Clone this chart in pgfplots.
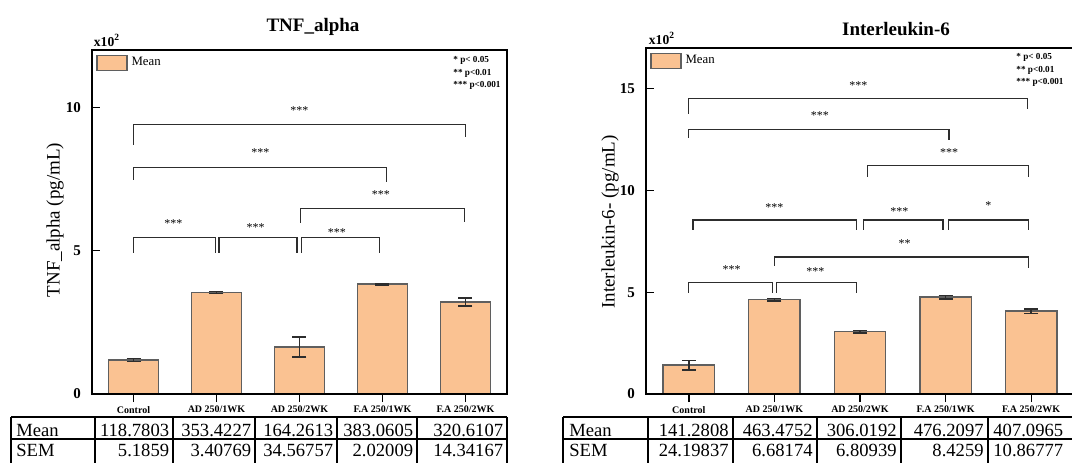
\documentclass[border=0pt]{standalone}
\usepackage{fontspec}
\setmainfont{Liberation Serif}
\usepackage{pgfplots}
\pgfplotsset{compat=1.18}
\definecolor{barfill}{RGB}{250,194,146}
\definecolor{bardraw}{RGB}{95,95,95}
\definecolor{brk}{RGB}{45,45,45}
\newcommand\fs[1]{\fontsize{#1}{#1}\selectfont}
\tikzset{bk/.style={draw=brk, line width=0.6pt}, st/.style={font=\fs{6}, inner sep=0pt}}
\begin{document}
\begin{tikzpicture}[x=0.5pt,y=0.5pt]
\useasboundingbox (0,0) rectangle (1072,462);
\clip (0,0) rectangle (1072,462);
\pgfplotsset{
 myax/.style={
  scale only axis, anchor=south west,
  xmin=-0.5, xmax=4.5, ymin=0,
  xtick={0,1,2,3,4},
  xticklabels={Control, AD 250/1WK, AD 250/2WK, F.A 250/1WK, F.A 250/2WK},
  tick align=inside, xtick pos=bottom, ytick pos=left,
  major tick length=4pt,
  tick style={black, line width=0.7pt},
  axis line style={black, line width=1pt},
  xticklabel style={font=\bfseries\fs{5}, yshift=1.5pt},
  yticklabel style={font=\bfseries\fs{7.5}, xshift=-2pt},
  /pgf/number format/assume math mode=true,
  ybar, bar width=0.6, axis on top, clip=false,
  legend style={at={(0,1)}, anchor=north west, draw=none, fill=none,
    font=\fs{6.4}, inner xsep=2pt, inner ysep=1.5pt,
    /tikz/every even column/.append style={column sep=0pt}},
 },
 bars/.style={fill=barfill, draw=bardraw, line width=0.75pt,
   legend image code/.code={\draw[fill=barfill,draw=bardraw,line width=0.6pt] (0pt,-3.75pt) rectangle (15pt,3.75pt);}},
 ebar/.style={error bars/.cd, y dir=both, y explicit,
   error bar style={draw=brk,line width=0.75pt},
   error mark options={rotate=90, mark size=3.5pt, line width=0.75pt, draw=brk}},
}
% ---------------- Left: TNF_alpha ----------------
\begin{axis}[myax, at={(46pt,34pt)}, width=207.5pt, height=172pt,
  ymax=1200, ytick={0,500,1000}, yticklabels={0,5,10}]
\addplot[bars, ebar] coordinates {
 (0,118.7803) +- (0,5.1859)
 (1,353.4227) +- (0,3.40769)
 (2,164.2613) +- (0,34.56757)
 (3,383.0605) +- (0,2.02009)
 (4,320.6107) +- (0,14.34167)};
\addlegendentry{Mean}
\draw[bk] (axis cs:0,870) |- (axis cs:4,940) -- (axis cs:4,895);
\node[st] at (axis cs:2,990) {***};
\draw[bk] (axis cs:0,748) |- (axis cs:3.05,790) -- (axis cs:3.05,738);
\node[st] at (axis cs:1.53,842) {***};
\draw[bk] (axis cs:2.01,598) |- (axis cs:3.99,647) -- (axis cs:3.99,600);
\node[st] at (axis cs:2.98,696) {***};
\draw[bk] (axis cs:0,493) |- (axis cs:0.99,545) -- (axis cs:0.99,493);
\node[st] at (axis cs:0.48,594) {***};
\draw[bk] (axis cs:1.03,493) |- (axis cs:1.97,545) -- (axis cs:1.97,493);
\node[st] at (axis cs:1.47,580) {***};
\draw[bk] (axis cs:2.02,493) |- (axis cs:2.96,545) -- (axis cs:2.96,493);
\node[st] at (axis cs:2.45,563) {***};
\end{axis}
% ---------------- Right: Interleukin-6 ----------------
\begin{axis}[myax, at={(323pt,34pt)}, width=214pt, height=173pt,
  ymax=1700, ytick={0,500,1000,1500}, yticklabels={0,5,10,15}]
\addplot[bars, ebar] coordinates {
 (0,141.2808) +- (0,24.19837)
 (1,463.4752) +- (0,6.68174)
 (2,306.0192) +- (0,6.80939)
 (3,476.2097) +- (0,8.4259)
 (4,407.0965) +- (0,10.86777)};
\addlegendentry{Mean}
\draw[bk] (axis cs:0,1376) |- (axis cs:3.96,1450) -- (axis cs:3.96,1401);
\node[st] at (axis cs:1.98,1514) {***};
\draw[bk] (axis cs:0,1259) |- (axis cs:3.04,1298) -- (axis cs:3.04,1249);
\node[st] at (axis cs:1.53,1367) {***};
\draw[bk] (axis cs:2.09,1067) |- (axis cs:3.97,1121) -- (axis cs:3.97,1067);
\node[st] at (axis cs:3.04,1185) {***};
\draw[bk] (axis cs:0.05,806) |- (axis cs:1.96,855) -- (axis cs:1.96,806);
\node[st] at (axis cs:1.0,914) {***};
\draw[bk] (axis cs:2.04,806) |- (axis cs:2.97,855) -- (axis cs:2.97,806);
\node[st] at (axis cs:2.46,895) {***};
\draw[bk] (axis cs:3.03,806) |- (axis cs:3.97,855) -- (axis cs:3.97,806);
\node[st] at (axis cs:3.5,924) {*};
\draw[bk] (axis cs:1.0,629) |- (axis cs:3.97,673) -- (axis cs:3.97,619);
\node[st] at (axis cs:2.52,737) {**};
\draw[bk] (axis cs:0,497) |- (axis cs:0.98,546) -- (axis cs:0.98,497);
\node[st] at (axis cs:0.5,610) {***};
\draw[bk] (axis cs:1.02,497) |- (axis cs:1.96,546) -- (axis cs:1.96,497);
\node[st] at (axis cs:1.48,600) {***};
\end{axis}
% ---------------- Titles, labels, notes ----------------
\node[font=\bfseries\fs{9.5}] at (313,435) {TNF\_alpha};
\node[font=\bfseries\fs{9.5}] at (896,433) {Interleukin-6};
\node[font=\bfseries\fs{6.8}, inner sep=0pt] at (107,422) {x10\textsuperscript{2}};
\node[font=\bfseries\fs{6.8}, inner sep=0pt] at (662,424) {x10\textsuperscript{2}};
\node[font=\fs{9.5}, rotate=90] at (55,242) {TNF\_alpha (pg/mL)};
\node[font=\fs{9.5}, rotate=90] at (610,240) {Interleukin-6- (pg/mL)};
\node[font=\bfseries\fontsize{4.6}{6.25}\selectfont, align=left, anchor=north west, inner sep=0pt] at (453,406) {* p< 0.05\\** p<0.01\\*** p<0.001};
\node[font=\bfseries\fontsize{4.6}{6.25}\selectfont, align=left, anchor=north west, inner sep=0pt] at (1016,409) {* p< 0.05\\** p<0.01\\*** p<0.001};
% ---------------- Tables ----------------
\begin{scope}[line width=0.8pt]
\draw (11,45) -- (507,45);
\draw (11,23) -- (507,23);
\foreach \x in {11,95,173,255,337,417,507} \draw (\x,45) -- (\x,-10);
\draw (563,45) -- (1080,45);
\draw (563,23) -- (1080,23);
\foreach \x in {563,648,733,817,901,988} \draw (\x,45) -- (\x,-10);
\end{scope}
\begin{scope}[font=\fs{9.3}, inner sep=0pt]
\node[anchor=base west] at (16,26) {Mean};
\node[anchor=base west] at (16,6) {SEM};
\foreach \x/\a/\b in {169.5/118.7803/5.1859, 251.5/353.4227/3.40769, 333.5/164.2613/34.56757, 413.5/383.0605/2.02009, 503.5/320.6107/14.34167}{
  \node[anchor=base east] at (\x,26) {\a};
  \node[anchor=base east] at (\x,6) {\b};
}
\node[anchor=base west] at (569,26) {Mean};
\node[anchor=base west] at (569,6) {SEM};
\foreach \x/\a/\b in {729/141.2808/24.19837, 813/463.4752/6.68174, 897/306.0192/6.80939, 984/476.2097/8.4259}{
  \node[anchor=base east] at (\x,26) {\a};
  \node[anchor=base east] at (\x,6) {\b};
}
\node[anchor=base west] at (993,26) {407.0965};
\node[anchor=base west] at (993,6) {10.86777};
\end{scope}
\end{tikzpicture}
\end{document}
